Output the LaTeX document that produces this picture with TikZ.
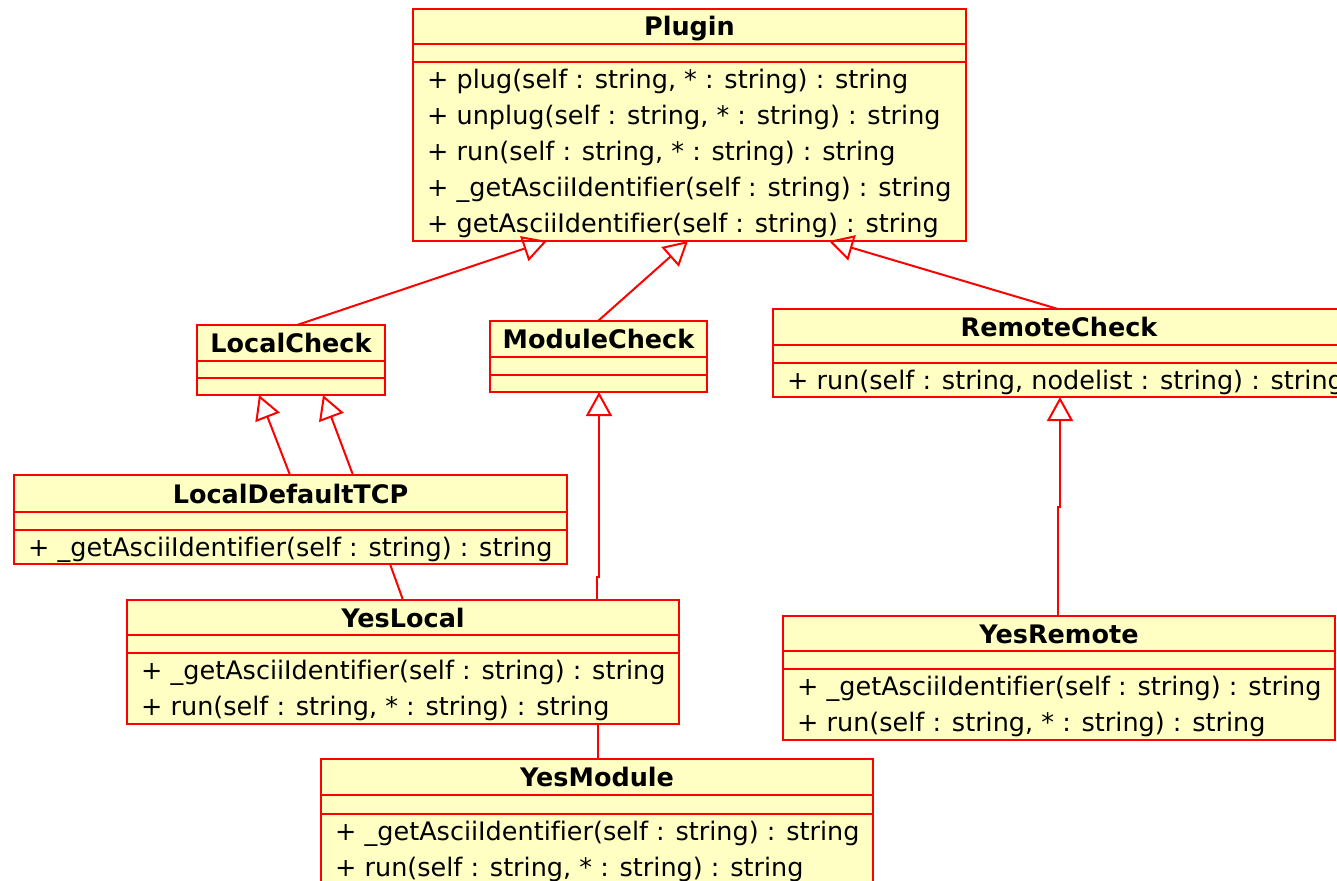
\documentclass[tikz,border=0pt]{standalone}
\usepackage{fontspec}
\setmainfont[Ligatures=NoCommon]{DejaVu Sans}
\usetikzlibrary{arrows.meta}

\definecolor{umlfill}{RGB}{255,255,196}
\definecolor{umlline}{RGB}{255,0,0}

\newcommand\umlfont{\fontsize{25.5}{31}\selectfont}

\tikzset{
  classbox/.style={rectangle, draw=umlline, fill=umlfill, line width=2pt, inner sep=0pt, outer sep=0pt},
  comprule/.style={draw=umlline, line width=2pt},
  ctitle/.style={font=\umlfont\bfseries, anchor=base, inner sep=0pt},
  optext/.style={font=\umlfont, anchor=base west, inner sep=0pt},
  assoc/.style={draw=umlline, line width=2pt},
  generalize/.style={assoc, -{Triangle[open, length=24pt, width=26pt]}},
}

% \umlclass{name}{left}{right}{top}{title bottom}{attribute bottom}{bottom}{class name}
\newcommand\umlclass[8]{%
  \node[classbox, anchor=north west,
        minimum width={(#3-#2)*1pt}, minimum height={(#7-#4)*1pt}] (#1) at (#2,#4) {};
  \draw[comprule] (#2,#5) -- (#3,#5) (#2,#6) -- (#3,#6);
  \node[ctitle] (#1-name) at ({(#2+#3)/2},{(#4+#5)/2+9.5}) {#8};
  \xdef\umlleft{#2}\xdef\umlopstop{#6}%
}
% \umlop{class}{line number}{operation}
\newcommand\umlop[3]{%
  \node[optext] (#1-op#2) at ({\umlleft+14},{\umlopstop+26.5+36*(#2-1)}) {#3};
}

\begin{document}
\begin{tikzpicture}[x=1pt, y=-1pt]
\useasboundingbox (0,0) rectangle (1337,880);
\clip (0,0) rectangle (1337,880);

\umlclass{plugin}{413}{966}{9}{44}{62}{241}{Plugin}
\umlop{plugin}{1}{+ plug(self : string, * : string) : string}
\umlop{plugin}{2}{+ unplug(self : string, * : string) : string}
\umlop{plugin}{3}{+ run(self : string, * : string) : string}
\umlop{plugin}{4}{+ \_getAsciiIdentifier(self : string) : string}
\umlop{plugin}{5}{+ getAsciiIdentifier(self : string) : string}

\umlclass{localcheck}{197}{385}{325}{361}{378}{395}{LocalCheck}
\umlclass{modulecheck}{490}{707}{321}{357}{375}{392}{ModuleCheck}

\umlclass{remotecheck}{773}{1345}{309}{345}{363}{397}{RemoteCheck}
\umlop{remotecheck}{1}{+ run(self : string, nodelist : string) : string}

\umlclass{localdefault}{14}{567}{475}{512}{530}{564}{LocalDefaultTCP}
\umlop{localdefault}{1}{+ \_getAsciiIdentifier(self : string) : string}

\umlclass{yeslocal}{127}{679}{600}{635}{653}{724}{YesLocal}
\umlop{yeslocal}{1}{+ \_getAsciiIdentifier(self : string) : string}
\umlop{yeslocal}{2}{+ run(self : string, * : string) : string}

\umlclass{yesremote}{783}{1335}{616}{651}{669}{740}{YesRemote}
\umlop{yesremote}{1}{+ \_getAsciiIdentifier(self : string) : string}
\umlop{yesremote}{2}{+ run(self : string, * : string) : string}

\umlclass{yesmodule}{321}{873}{759}{795}{814}{886}{YesModule}
\umlop{yesmodule}{1}{+ \_getAsciiIdentifier(self : string) : string}
\umlop{yesmodule}{2}{+ run(self : string, * : string) : string}

% generalizations towards Plugin
\draw[generalize] ([xshift=100pt]localcheck.north west) -- ([xshift=134pt]plugin.south west);
\draw[generalize] ([xshift=108pt]modulecheck.north west) -- ([xshift=275pt]plugin.south west);
\draw[generalize] ([xshift=285pt]remotecheck.north west) -- ([xshift=416pt]plugin.south west);

% LocalDefaultTCP specializes LocalCheck twice
\draw[generalize] ([xshift=276pt]localdefault.north west) -- ([xshift=62pt]localcheck.south west);
\draw[generalize] ([xshift=339pt]localdefault.north west) -- ([xshift=126pt]localcheck.south west);

% YesLocal
\draw[assoc] ([xshift=276pt]yeslocal.north west) -- ([xshift=376pt]localdefault.south west);
\draw[generalize] ([xshift=470pt]yeslocal.north west) -- ++(0,-23) -- ++(2,0)
  -- ([xshift=109pt]modulecheck.south west);

% YesModule
\draw[assoc] ([xshift=277pt]yesmodule.north west) -- ([xshift=471pt]yeslocal.south west);

% YesRemote
\draw[generalize] ([xshift=275pt]yesremote.north west) -- ++(0,-109) -- ++(2,0)
  -- ([xshift=287pt]remotecheck.south west);
\end{tikzpicture}
\end{document}
